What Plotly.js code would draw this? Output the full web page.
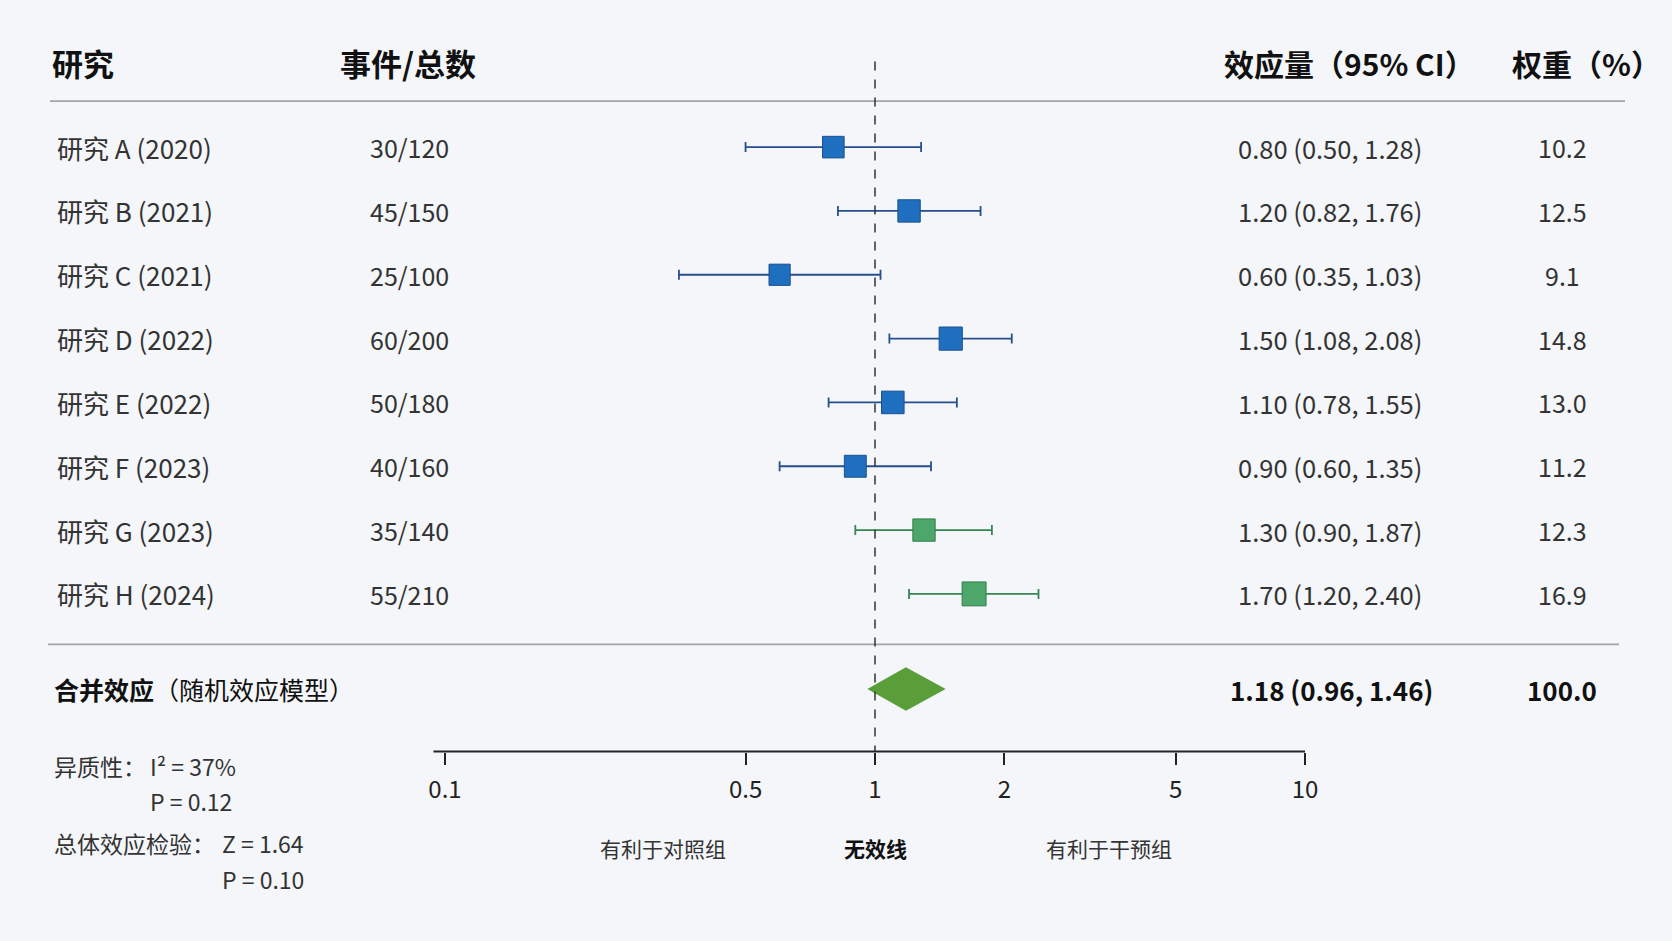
<!DOCTYPE html>
<html>
<head>
<meta charset="utf-8">
<script src="https://cdn.plot.ly/plotly-3.0.1.min.js"></script>
<style>
  html, body { margin: 0; padding: 0; background: #f4f6f9; }
  #chart { width: 1672px; height: 941px; }
</style>
</head>
<body>
<div id="chart"></div>
<script>
// study data
var studies = ['研究 A (2020)', '研究 B (2021)', '研究 C (2021)', '研究 D (2022)',
               '研究 E (2022)', '研究 F (2023)', '研究 G (2023)', '研究 H (2024)'];
var events = [30, 45, 25, 60, 50, 40, 35, 55];
var totals = [120, 150, 100, 200, 180, 160, 140, 210];
var effect = [0.80, 1.20, 0.60, 1.50, 1.10, 0.90, 1.30, 1.70];
var ciLow  = [0.50, 0.82, 0.35, 1.08, 0.78, 0.60, 0.90, 1.20];
var ciHigh = [1.28, 1.76, 1.03, 2.08, 1.55, 1.35, 1.87, 2.40];
var weights = [10.2, 12.5, 9.1, 14.8, 13.0, 11.2, 12.3, 16.9];

// pooled result (random effects)
var pooledEst = 1.18, pooledLow = 0.96, pooledHigh = 1.46, pooledWeight = 100.0;
var i2 = 37, pHet = 0.12, zVal = 1.64, pZ = 0.10;

var tickVals = [0.1, 0.5, 1, 2, 5, 10];
var tickText = ['0.1', '0.5', '1', '2', '5', '10'];

// styling
var W = 1672, H = 941;
var FONT = '"Noto Sans CJK SC", "Noto Sans", sans-serif';
var fillCols = ['#1f6fc1', '#1f6fc1', '#1f6fc1', '#1f6fc1', '#1f6fc1', '#1f6fc1', '#4ea76a', '#4ea76a'];
var edgeCols = ['#1b4f8f', '#1b4f8f', '#1b4f8f', '#1b4f8f', '#1b4f8f', '#1b4f8f', '#2f7d4b', '#2f7d4b'];
var barCols  = ['#274f8c', '#274f8c', '#274f8c', '#274f8c', '#274f8c', '#274f8c', '#368555', '#368555'];

// row positions (row index units)
var rowHeader = -1.32, rowTopLine = -0.72, rowSep = 7.79, rowPooled = 8.49, rowAxis = 9.47;

function px(x) { return x / W; }

var data = [];
studies.forEach(function(s, i) {
    data.push({
        type: 'scatter', mode: 'markers',
        x: [effect[i]], y: [i],
        error_x: {
            type: 'data', symmetric: false,
            array: [ciHigh[i] - effect[i]],
            arrayminus: [effect[i] - ciLow[i]],
            color: barCols[i], thickness: 1.8, width: 5
        },
        marker: { symbol: 'square', size: 18 + 0.35 * weights[i], color: fillCols[i],
                  line: { color: edgeCols[i], width: 1 } },
        hoverinfo: 'skip', showlegend: false
    });
});

// pooled diamond
var dh = 0.34;
data.push({
    type: 'scatter', mode: 'lines',
    x: [pooledLow, pooledEst, pooledHigh, pooledEst, pooledLow],
    y: [rowPooled, rowPooled - dh, rowPooled, rowPooled + dh, rowPooled],
    fill: 'toself', fillcolor: '#5a9e3a', line: { width: 0, color: '#5a9e3a' },
    hoverinfo: 'skip', showlegend: false
});

var ann = [];
function addText(text, x, y, anchor, size, color) {
    ann.push({ text: text, xref: 'paper', yref: 'y', x: px(x), y: y,
               xanchor: anchor, yanchor: 'middle', showarrow: false,
               font: { family: FONT, size: size, color: color || '#333' } });
}

// header
addText('<b>研究</b>', 50, rowHeader, 'left', 31, '#111');
addText('<b>事件/总数</b>', 408, rowHeader, 'center', 31, '#111');
addText('<b>效应量（95% CI）</b>', 1349, rowHeader, 'center', 30, '#111');
addText('<b>权重（%）</b>', 1586, rowHeader, 'center', 30, '#111');

studies.forEach(function(s, i) {
    addText(s, 55, i, 'left', 26);
    addText(events[i] + '/' + totals[i], 409, i, 'center', 25);
    addText(effect[i].toFixed(2) + ' (' + ciLow[i].toFixed(2) + ', ' + ciHigh[i].toFixed(2) + ')',
            1330, i, 'center', 25.5);
    addText(weights[i].toFixed(1), 1562, i, 'center', 25);
});

// pooled row
addText('<b>合并效应</b>（随机效应模型）', 52, rowPooled, 'left', 25, '#111');
addText('<b>' + pooledEst.toFixed(2) + ' (' + pooledLow.toFixed(2) + ', ' + pooledHigh.toFixed(2) + ')</b>',
        1331, rowPooled, 'center', 26, '#111');
addText('<b>' + pooledWeight.toFixed(1) + '</b>', 1562, rowPooled, 'center', 26, '#111');

// statistics
addText('异质性：', 52, 9.69, 'left', 23);
addText('I² = ' + i2 + '%', 148, 9.69, 'left', 23);
addText('P = ' + pHet.toFixed(2), 148, 10.24, 'left', 23);
addText('总体效应检验：', 52, 10.91, 'left', 23);
addText('Z = ' + zVal.toFixed(2), 220, 10.91, 'left', 23);
addText('P = ' + pZ.toFixed(2), 220, 11.46, 'left', 23);

// direction labels
addText('有利于对照组', 663, 10.98, 'center', 21);
ann.push({ text: '<b>无效线</b>', xref: 'x', yref: 'y', x: 0, y: 10.98, xanchor: 'center',
           yanchor: 'middle', showarrow: false, font: { family: FONT, size: 21, color: '#111' } });
addText('有利于干预组', 1109, 10.98, 'center', 21);

var shapes = [
    { type: 'line', xref: 'paper', yref: 'y', x0: px(50), x1: px(1625), y0: rowTopLine, y1: rowTopLine,
      line: { color: '#a3a3a3', width: 1.6 } },
    { type: 'line', xref: 'paper', yref: 'y', x0: px(48), x1: px(1619), y0: rowSep, y1: rowSep,
      line: { color: '#a3a3a3', width: 1.6 } },
    { type: 'line', xref: 'x', yref: 'y', x0: 0.094, x1: 10, y0: rowAxis, y1: rowAxis,
      line: { color: '#222', width: 2 } },
    { type: 'line', xref: 'x', yref: 'y', x0: 1, x1: 1, y0: -1.34, y1: rowAxis,
      line: { color: '#333', width: 1.5, dash: 'dash' } }
];

// log axis: value 1 at x=875px, 430 px per decade
var pxPerDec = 430, onePx = 875;
var layout = {
    width: W, height: H,
    margin: { l: 0, r: 0, t: 0, b: 0 },
    paper_bgcolor: '#f4f6f9', plot_bgcolor: '#f4f6f9',
    font: { family: FONT },
    xaxis: {
        type: 'log', range: [-onePx / pxPerDec, (W - onePx) / pxPerDec],
        tickvals: tickVals, ticktext: tickText,
        ticks: 'outside', ticklen: 12, tickwidth: 2, tickcolor: '#222',
        tickfont: { family: FONT, size: 24, color: '#222' },
        ticklabelstandoff: 4,
        showline: false, showgrid: false, zeroline: false,
        anchor: 'free', position: 1 - 751.7 / H, fixedrange: true
    },
    yaxis: {
        range: [12.438, -2.305], visible: false, showgrid: false, zeroline: false, fixedrange: true
    },
    shapes: shapes,
    annotations: ann,
    showlegend: false
};

Plotly.newPlot('chart', data, layout, { staticPlot: true, displayModeBar: false });
</script>
</body>
</html>
